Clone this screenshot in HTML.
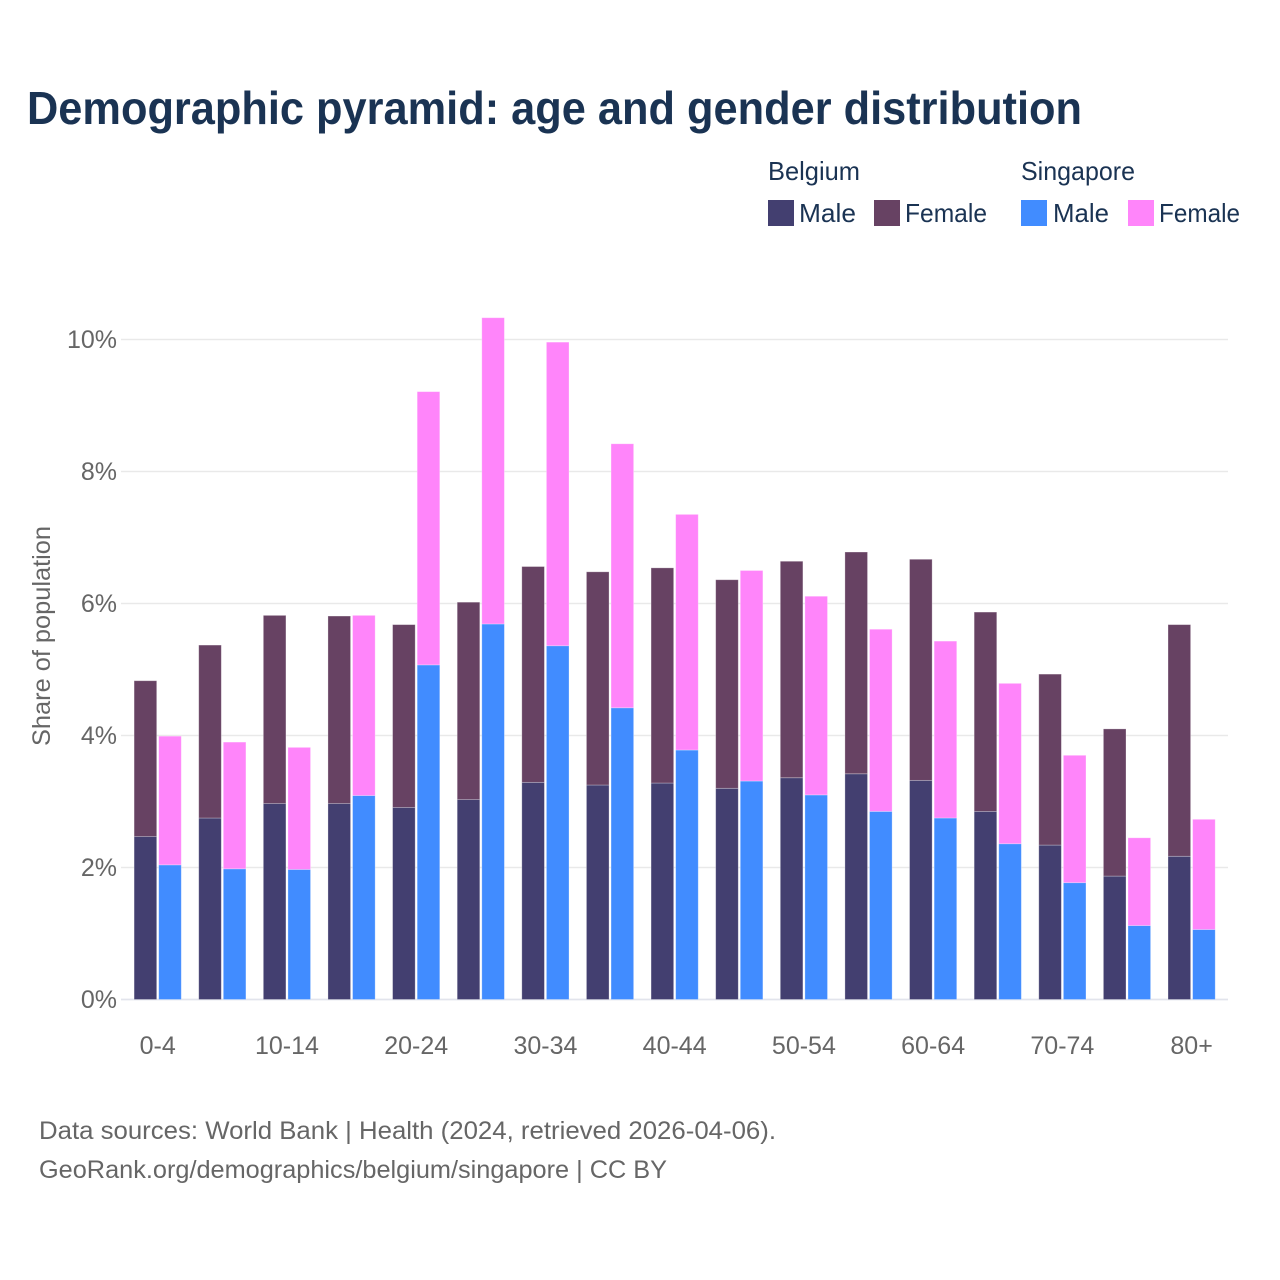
<!DOCTYPE html>
<html lang="en">
<head>
<meta charset="utf-8">
<title>Demographic pyramid: age and gender distribution</title>
<style>
html,body{margin:0;padding:0;background:#fff;width:1280px;height:1280px;overflow:hidden}
svg{display:block}
text{font-family:"Liberation Sans",sans-serif}
.legend-text{fill:#1a3353;font-size:26px}
.muted{fill:#666666;font-size:25px}
</style>
</head>
<body>
<svg id="chart" xmlns="http://www.w3.org/2000/svg" width="1280" height="1280" viewBox="0 0 1280 1280">
  <rect x="0" y="0" width="1280" height="1280" fill="#ffffff"/>
  <text x="27" y="124" font-size="46" font-weight="700" fill="#1a3353" textLength="1055" lengthAdjust="spacingAndGlyphs">Demographic pyramid: age and gender distribution</text>

  <g>
    <text class="legend-text" x="768" y="180" textLength="92" lengthAdjust="spacingAndGlyphs">Belgium</text>
    <text class="legend-text" x="1021" y="180" textLength="114" lengthAdjust="spacingAndGlyphs">Singapore</text>
    <rect x="768" y="200" width="26" height="26" fill="#433f70"/>
    <text class="legend-text" x="799" y="222" textLength="57" lengthAdjust="spacingAndGlyphs">Male</text>
    <rect x="874" y="200" width="26" height="26" fill="#674263"/>
    <text class="legend-text" x="905" y="222" textLength="82" lengthAdjust="spacingAndGlyphs">Female</text>
    <rect x="1021" y="200" width="26" height="26" fill="#418cff"/>
    <text class="legend-text" x="1053" y="222" textLength="56" lengthAdjust="spacingAndGlyphs">Male</text>
    <rect x="1128" y="200" width="26" height="26" fill="#ff85fa"/>
    <text class="legend-text" x="1159" y="222" textLength="81" lengthAdjust="spacingAndGlyphs">Female</text>
  </g>

  <g id="grid"></g>
  <g id="bars"></g>
  <g id="y-axis"></g>
  <g id="x-axis"></g>

  <text class="muted" transform="translate(50 636) rotate(-90)" text-anchor="middle" textLength="220" lengthAdjust="spacingAndGlyphs">Share of population</text>

  <text class="muted" x="39" y="1139" textLength="737" lengthAdjust="spacingAndGlyphs">Data sources: World Bank | Health (2024, retrieved 2026-04-06).</text>
  <text class="muted" x="39" y="1178" textLength="628" lengthAdjust="spacingAndGlyphs">GeoRank.org/demographics/belgium/singapore | CC BY</text>
</svg>
<script>
const categories = ["0-4","5-9","10-14","15-19","20-24","25-29","30-34","35-39","40-44","45-49","50-54","55-59","60-64","65-69","70-74","75-79","80+"];
const belgiumMale = [2.47,2.75,2.97,2.97,2.91,3.03,3.29,3.25,3.28,3.20,3.36,3.42,3.32,2.85,2.34,1.87,2.17];
const belgiumFemale = [2.36,2.62,2.85,2.84,2.77,2.99,3.27,3.23,3.26,3.16,3.28,3.36,3.35,3.02,2.59,2.23,3.51];
const singaporeMale = [2.04,1.98,1.97,3.09,5.07,5.69,5.36,4.42,3.78,3.31,3.10,2.85,2.75,2.36,1.77,1.12,1.06];
const singaporeFemale = [1.95,1.92,1.85,2.73,4.14,4.64,4.60,4.00,3.57,3.19,3.01,2.76,2.68,2.43,1.93,1.33,1.67];
const yTicks = [0,2,4,6,8,10];
const xLabelEvery = 2;

const NS = "http://www.w3.org/2000/svg";
const plotLeft = 121, plotRight = 1228, yZero = 999.5, pxPerUnit = 66;
const firstCenter = 157.7, bandStep = 64.62, barWidth = 22.6, barOffset = 12.3;
const colors = { bm: "#433f70", bf: "#674263", sm: "#418cff", sf: "#ff85fa" };

function yScale(v) { return yZero - v * pxPerUnit; }
function xScale(i) { return firstCenter + i * bandStep; }

function makeRect(x, yTop, yBottom, fill) {
  const r = document.createElementNS(NS, "rect");
  r.setAttribute("x", (x - barWidth / 2).toFixed(2));
  r.setAttribute("y", yTop.toFixed(2));
  r.setAttribute("width", barWidth);
  r.setAttribute("height", (yBottom - yTop).toFixed(2));
  r.setAttribute("fill", fill);
  r.setAttribute("stroke", "#ffffff");
  r.setAttribute("stroke-opacity", "0.35");
  r.setAttribute("stroke-width", "0.8");
  return r;
}

const gridG = document.getElementById("grid");
const yAxisG = document.getElementById("y-axis");
yTicks.forEach(function (t) {
  const line = document.createElementNS(NS, "line");
  
  
  line.setAttribute("x1", plotLeft);
  line.setAttribute("x2", plotRight);
  line.setAttribute("y1", yScale(t));
  line.setAttribute("y2", yScale(t));
  line.setAttribute("stroke", t === 0 ? "#e2e4ec" : "#e9e9e9");
  line.setAttribute("stroke-width", t === 0 ? "1.8" : "1.4");
  gridG.appendChild(line);

  const label = document.createElementNS(NS, "text");
  
  
  label.setAttribute("x", 117);
  label.setAttribute("y", yScale(t) + 8.5);
  label.setAttribute("text-anchor", "end");
  label.setAttribute("font-size", "25");
  label.setAttribute("fill", "#666666");
  label.textContent = t + "%";
  yAxisG.appendChild(label);
});

const barsG = document.getElementById("bars");
categories.forEach(function (c, i) {
  const cx = xScale(i);
  const bx = cx - barOffset;
  const sx = cx + barOffset;

  const bmRect = makeRect(bx, yScale(belgiumMale[i]), yScale(0), colors.bm);
  
  
  barsG.appendChild(bmRect);

  const bfRect = makeRect(bx, yScale(belgiumMale[i] + belgiumFemale[i]), yScale(belgiumMale[i]), colors.bf);
  
  
  barsG.appendChild(bfRect);

  const smRect = makeRect(sx, yScale(singaporeMale[i]), yScale(0), colors.sm);
  
  
  barsG.appendChild(smRect);

  const sfRect = makeRect(sx, yScale(singaporeMale[i] + singaporeFemale[i]), yScale(singaporeMale[i]), colors.sf);
  
  
  barsG.appendChild(sfRect);
});

const xAxisG = document.getElementById("x-axis");
categories.forEach(function (c, i) {
  if (i % xLabelEvery !== 0) return;
  const label = document.createElementNS(NS, "text");
  
  
  label.setAttribute("x", xScale(i));
  label.setAttribute("y", 1054);
  label.setAttribute("text-anchor", "middle");
  label.setAttribute("font-size", "25");
  label.setAttribute("fill", "#666666");
  label.textContent = c;
  xAxisG.appendChild(label);
});
</script>
</body>
</html>
